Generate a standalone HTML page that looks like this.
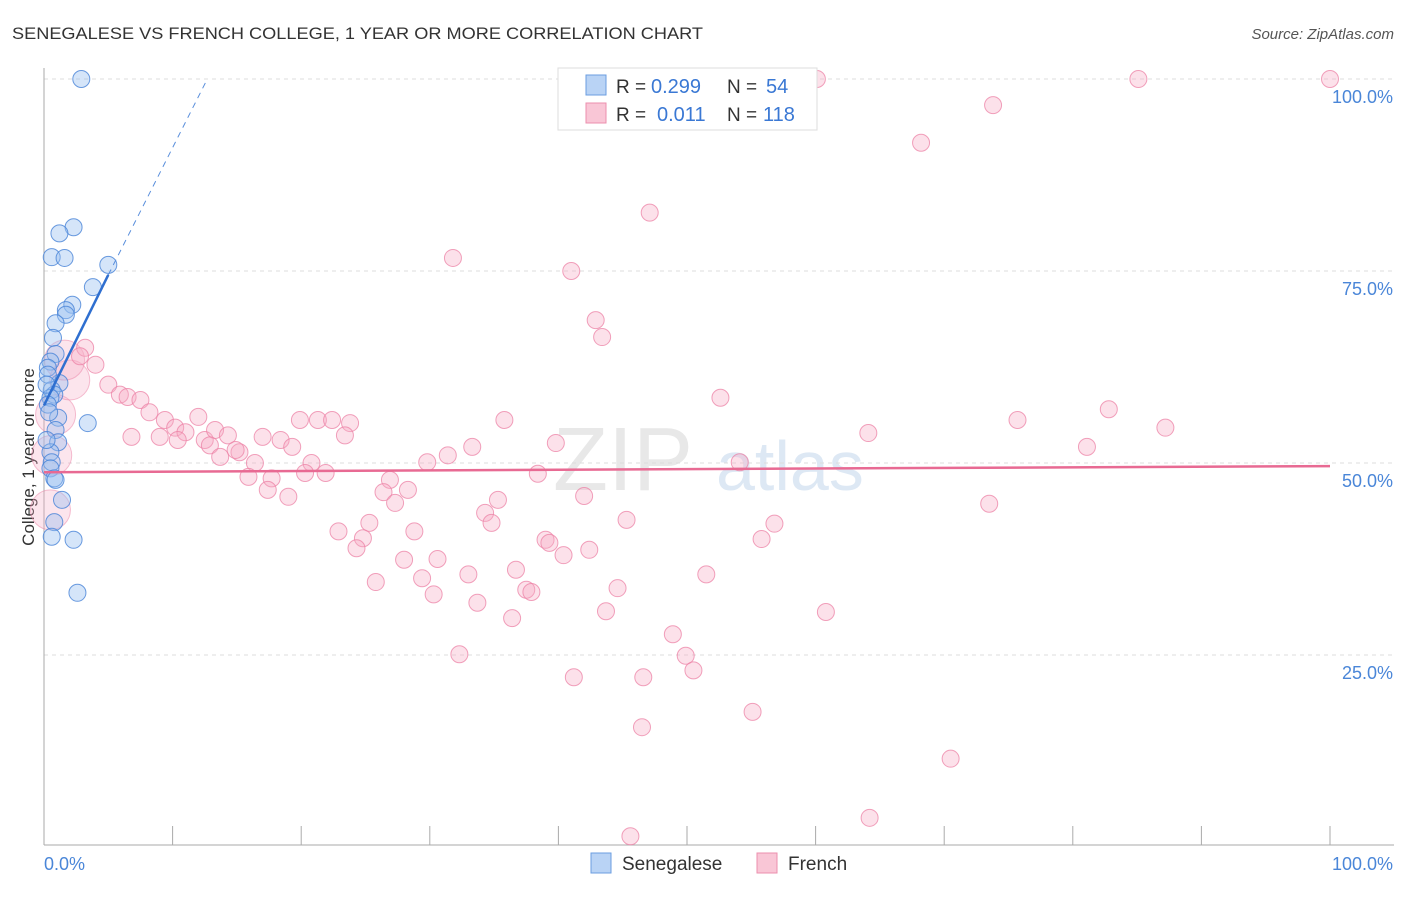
<!DOCTYPE html>
<html><head><meta charset="utf-8"><style>
body{margin:0;background:#fff;font-family:"Liberation Sans",sans-serif}
svg text{font-family:"Liberation Sans",sans-serif}
</style></head><body>
<svg width="1406" height="892" id="chart">
<text x="12" y="39" font-size="17" fill="#333" textLength="691" lengthAdjust="spacingAndGlyphs">SENEGALESE VS FRENCH COLLEGE, 1 YEAR OR MORE CORRELATION CHART</text>
<text x="1394" y="39" font-size="15" fill="#555" text-anchor="end" font-style="italic">Source: ZipAtlas.com</text>
<text x="34" y="457" font-size="17" fill="#333" text-anchor="middle" transform="rotate(-90 34 457)">College, 1 year or more</text>
<text x="553" y="490" font-size="90" fill="#e8e8e8" font-family="Liberation Serif">ZIP</text>
<text x="716" y="490" font-size="70" fill="#dde8f4">atlas</text>
<g id="grid"></g>
<g id="pts"></g>
<g id="lines"></g>
<g>
<rect x="558" y="68" width="259" height="62" fill="#fff" stroke="#ddd"/>
<rect x="586" y="75" width="20" height="20" fill="#b9d3f5" stroke="#6b9ee0"/>
<rect x="586" y="103" width="20" height="20" fill="#f9c6d6" stroke="#ec8fae"/>
<text x="616" y="93" font-size="19" fill="#333">R =</text>
<text x="651" y="93" font-size="20" fill="#3a78d4">0.299</text>
<text x="727" y="93" font-size="19" fill="#333">N =</text>
<text x="766" y="93" font-size="20" fill="#3a78d4">54</text>
<text x="616" y="121" font-size="19" fill="#333">R =</text>
<text x="657" y="121" font-size="20" fill="#3a78d4">0.011</text>
<text x="727" y="121" font-size="19" fill="#333">N =</text>
<text x="763" y="121" font-size="20" fill="#3a78d4">118</text>
</g>
<g>
<rect x="591" y="853" width="20" height="20" fill="#b9d3f5" stroke="#6b9ee0"/>
<text x="622" y="870" font-size="19" fill="#333">Senegalese</text>
<rect x="757" y="853" width="20" height="20" fill="#f9c6d6" stroke="#ec8fae"/>
<text x="788" y="870" font-size="19" fill="#333">French</text>
</g>
</svg>
<script>
const yTicks=[25,50,75,100];
const yTickLabels=["25.0%","50.0%","75.0%","100.0%"];
const xTicks=[0,10,20,30,40,50,60,70,80,90,100];
const blueX=[2.9,2.3,1.2,0.6,1.6,5.0,3.8,2.2,1.7,1.7,0.9,0.7,0.9,0.5,0.3,1.2,0.6,0.8,0.5,0.3,1.1,3.4,0.9,1.1,0.5,0.6,0.5,0.8,0.9,1.4,0.8,0.6,2.3,2.6,0.3,0.2,0.4,0.2];
const blueY=[100,80.7,79.9,76.8,76.7,75.8,72.9,70.6,69.9,69.3,68.2,66.3,64.2,63.2,62.4,60.4,59.5,58.9,58.5,57.6,55.9,55.2,54.3,52.7,51.4,50.1,49.3,48.0,47.8,45.2,42.3,40.4,40.0,33.1,61.5,60.2,56.6,53.0];
const pinkX=[60.1,85.1,100,73.8,68.2,47.1,31.8,41.0,42.9,43.4,3.2,2.8,4.0,5.0,5.9,6.5,7.5,8.2,9.4,12.0,10.2,11.0,9.0,6.8,10.4,12.5,13.3,14.3,12.9,15.2,14.9,13.7,16.4,17.0,18.4,19.3,19.9,21.3,22.4,23.8,23.4,20.8,20.3,21.9,15.9,17.7,17.4,19.0,35.8,33.3,31.4,29.8,39.8,38.4,52.6,54.1,64.1,75.7,82.8,87.2,81.1,73.5,26.9,26.4,28.3,27.3,35.3,34.3,34.8,42.0,45.3,56.8,55.8,22.9,25.3,24.8,24.3,28.8,39.0,39.3,40.4,42.4,28.0,30.6,36.7,33.0,25.8,29.4,30.3,33.7,37.5,37.9,44.6,51.5,36.4,43.7,60.8,48.9,32.3,49.9,50.5,41.2,46.6,55.1,46.5,70.5,64.2,45.6];
const pinkY=[100,100,100,96.6,91.7,82.6,76.7,75.0,68.6,66.4,65.0,63.9,62.8,60.2,58.9,58.6,58.2,56.6,55.6,56.0,54.6,54.0,53.4,53.4,53.0,53.0,54.3,53.6,52.3,51.4,51.7,50.8,50.0,53.4,53.0,52.1,55.6,55.6,55.6,55.2,53.6,50.0,48.7,48.7,48.2,48.0,46.5,45.6,55.6,52.1,51.0,50.1,52.6,48.6,58.5,50.1,53.9,55.6,57.0,54.6,52.1,44.7,47.8,46.2,46.5,44.8,45.2,43.5,42.2,45.7,42.6,42.1,40.1,41.1,42.2,40.2,38.9,41.1,40.0,39.6,38.0,38.7,37.4,37.5,36.1,35.5,34.5,35.0,32.9,31.8,33.5,33.2,33.7,35.5,29.8,30.7,30.6,27.7,25.1,24.9,23.0,22.1,22.1,17.6,15.6,11.5,3.8,1.4];
const pinkBigX=[0.9,0.6,0.5,2.0,1.6];
const pinkBigY=[56.3,51.0,43.9,60.8,63.4];
const blueLine=[[0,57.5],[5,74.5]], blueDash=[[5,74.5],[12.7,100]];
const pinkLine=[[0,48.8],[100,49.6]];
const X=v=>44+v*12.86, Y=v=>847-v*7.68;
const NS="http://www.w3.org/2000/svg";
function mk(t,a,p){const e=document.createElementNS(NS,t);for(const k in a)e.setAttribute(k,a[k]);p.appendChild(e);return e;}
const grid=document.getElementById('grid');
yTicks.forEach((v,i)=>{
 const l=mk('line',{x1:44,x2:1394,y1:Y(v),y2:Y(v),stroke:'#ddd','stroke-dasharray':'4 4'},grid);
 
 
 const t=mk('text',{x:1393,y:Y(v)+24,'font-size':18,fill:'#4a86d8','text-anchor':'end'},grid);t.textContent=yTickLabels[i];
 
 
});
const ax=mk('line',{x1:44,x2:44,y1:68,y2:845,stroke:'#aaa'},grid);


const bx=mk('line',{x1:44,x2:1394,y1:845,y2:845,stroke:'#aaa'},grid);


xTicks.forEach(v=>{const t=mk('line',{x1:X(v),x2:X(v),y1:826,y2:845,stroke:'#aaa'},grid);
 
 });
let t0=mk('text',{x:44,y:870,'font-size':18,fill:'#4a86d8'},grid);t0.textContent='0.0%';


let t1=mk('text',{x:1393,y:870,'font-size':18,fill:'#4a86d8','text-anchor':'end'},grid);t1.textContent='100.0%';


const pts=document.getElementById('pts');
pinkBigX.forEach((v,i)=>{const c=mk('circle',{cx:X(v),cy:Y(pinkBigY[i]),r:20,fill:'rgba(246,170,195,0.3)',stroke:'rgba(236,130,165,0.5)'},pts);
 
 });
pinkX.forEach((v,i)=>{const c=mk('circle',{cx:X(v),cy:Y(pinkY[i]),r:8.5,fill:'rgba(246,170,195,0.35)',stroke:'rgba(236,130,165,0.75)'},pts);
 
 });
blueX.forEach((v,i)=>{const c=mk('circle',{cx:X(v),cy:Y(blueY[i]),r:8.5,fill:'rgba(150,190,240,0.4)',stroke:'rgba(70,130,215,0.8)'},pts);
 
 });
const lines=document.getElementById('lines');
const pl=mk('line',{x1:X(pinkLine[0][0]),y1:Y(pinkLine[0][1]),x2:X(pinkLine[1][0]),y2:Y(pinkLine[1][1]),stroke:'#e86a93','stroke-width':2.5},lines);


const bl=mk('line',{x1:X(blueLine[0][0]),y1:Y(blueLine[0][1]),x2:X(blueLine[1][0]),y2:Y(blueLine[1][1]),stroke:'#2f6fd0','stroke-width':2.5},lines);


const bd=mk('line',{x1:X(blueDash[0][0]),y1:Y(blueDash[0][1]),x2:X(blueDash[1][0]),y2:Y(blueDash[1][1]),stroke:'#5a8fdc','stroke-width':1,'stroke-dasharray':'6 5'},lines);


</script>
</body></html>
